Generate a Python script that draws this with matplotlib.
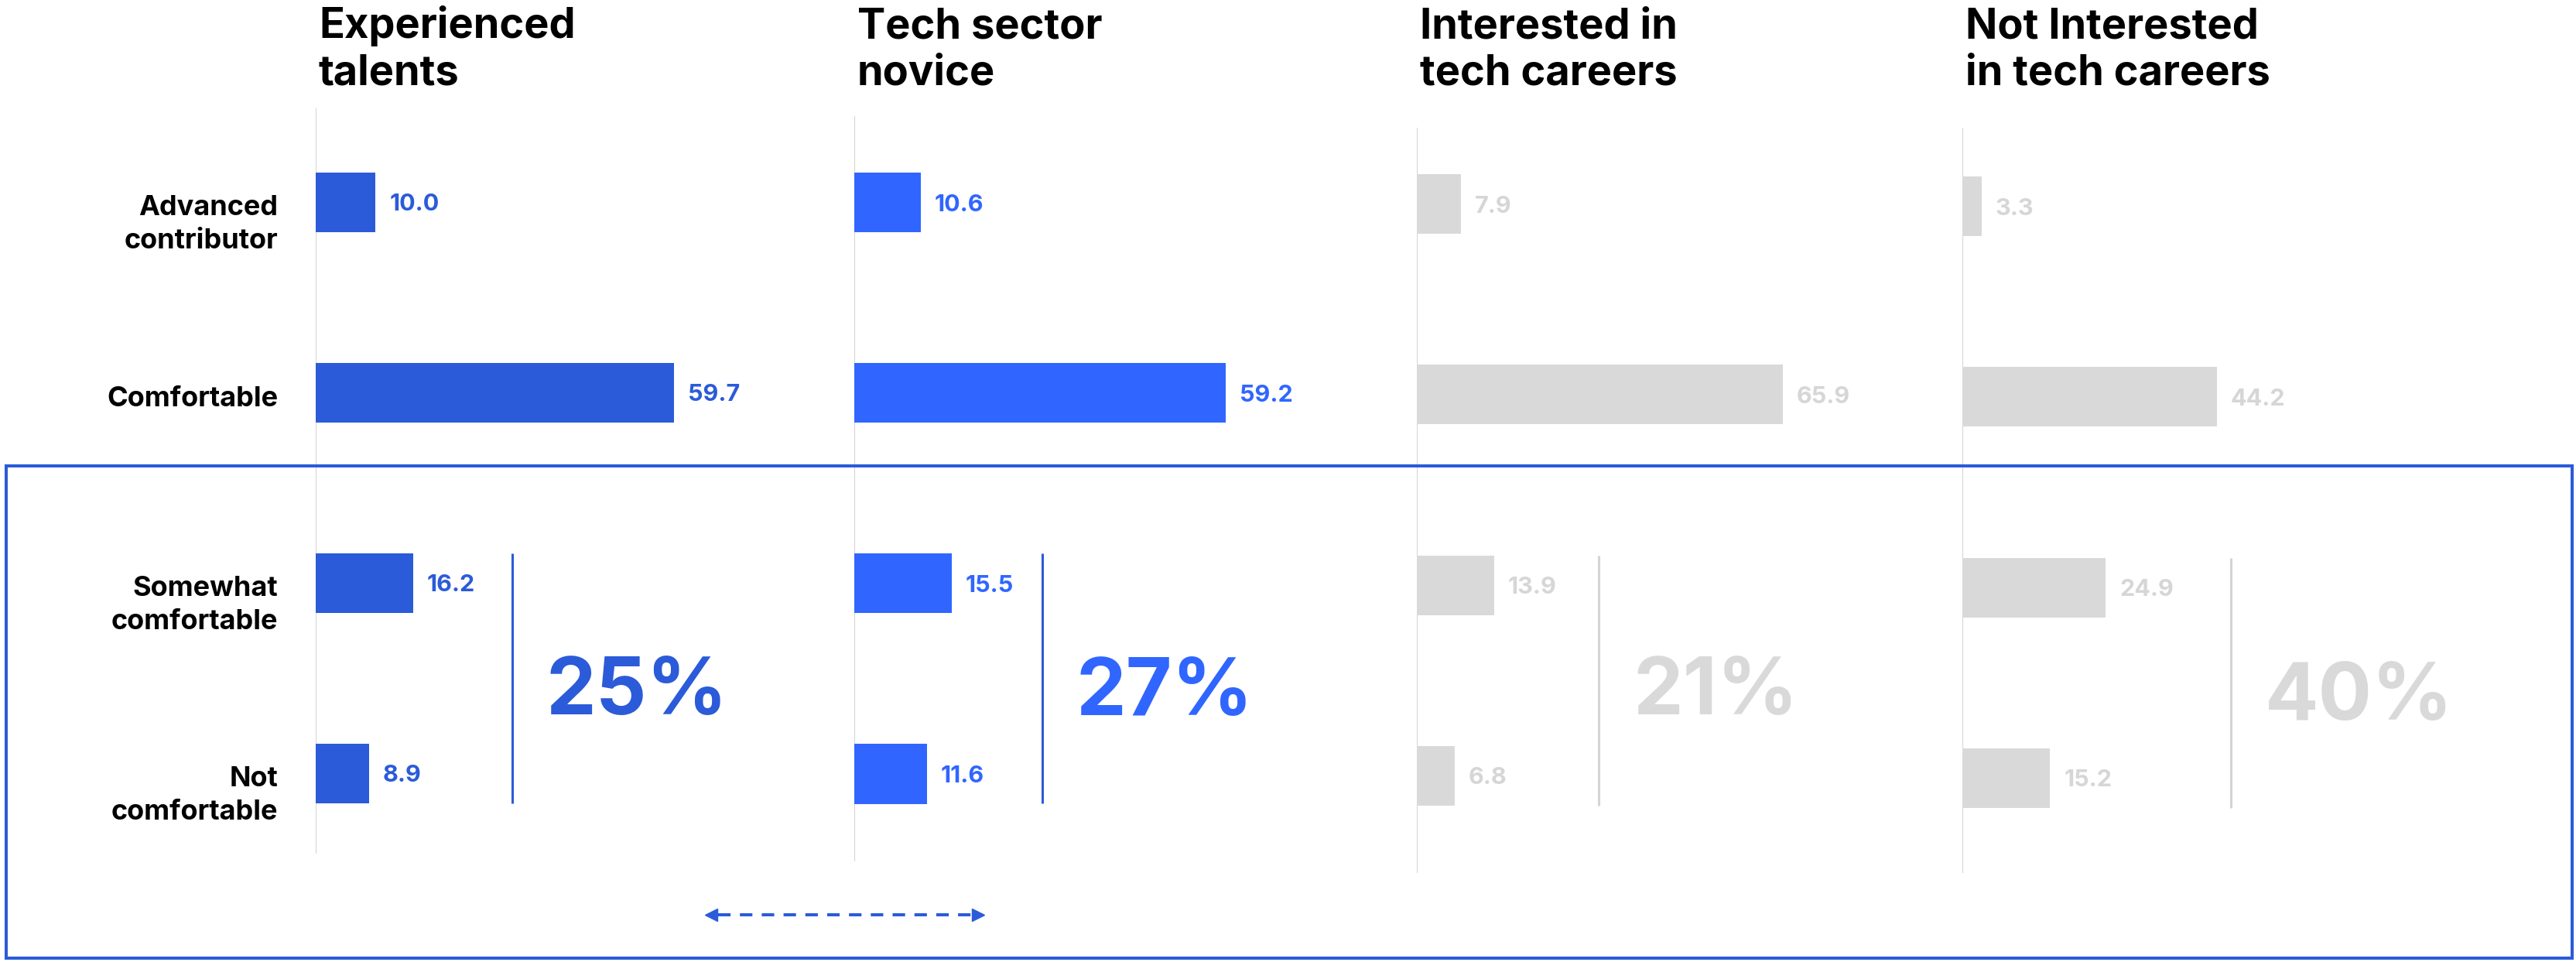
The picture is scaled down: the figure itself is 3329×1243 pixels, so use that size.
import matplotlib
matplotlib.use("Agg")
import matplotlib.pyplot as plt
from matplotlib.patches import Rectangle
from matplotlib.lines import Line2D

plt.rcParams['font.family'] = ['Inter', 'DejaVu Sans']
plt.rcParams['font.weight'] = 'bold'

groups = ["Experienced\ntalents", "Tech sector\nnovice",
          "Interested in\ntech careers", "Not Interested\nin tech careers"]
levels = ["Advanced\ncontributor", "Comfortable", "Somewhat\ncomfortable", "Not\ncomfortable"]
experienced = [10.0, 59.7, 16.2, 8.9]
novice = [10.6, 59.2, 15.5, 11.6]
interested = [7.9, 65.9, 13.9, 6.8]
not_interested = [3.3, 44.2, 24.9, 15.2]
series = [experienced, novice, interested, not_interested]

BLUE = '#2b5bd9'
BRIGHT = '#3066ff'
GREY = '#d9d9d9'
bar_colors = [BLUE, BRIGHT, GREY, GREY]
text_colors = [BLUE, BRIGHT, '#d6d6d6', '#d6d6d6']
bracket_colors = [BLUE, BLUE, '#d4d4d4', '#d4d4d4']

W, H = 3330, 1243
fig = plt.figure(figsize=(W / 100, H / 100), dpi=100)

def fx(x):
    return x / W

def fy(y):
    return 1 - y / H

# per panel: axis x, line top, line bottom, first bar centre, px per unit,
# bracket offset, big number baseline (all in pixels)
layout = [
    (408, 140, 1103, 261, 7.75, 254, 923),
    (1104, 150, 1113, 262, 8.1, 243, 924),
    (1831, 165, 1128, 264, 7.17, 235, 923),
    (2536, 165, 1128, 267, 7.44, 347, 930),
]
step = 246
bar_h = 77 / step

for k, (vals, lay) in enumerate(zip(series, layout)):
    x0, top, bot, c0, ppu, boff, base = lay
    width_px = 700
    ax = fig.add_axes([fx(x0), fy(bot), width_px / W, (bot - top) / H])
    ax.set_xlim(0, width_px / ppu)
    ax.set_ylim((bot - c0) / step, (top - c0) / step)
    ax.axis('off')
    ax.axvline(0, color='#d4d4d4', lw=1.5, zorder=0)

    ypos = list(range(len(vals)))
    ax.barh(ypos, vals, height=bar_h, color=bar_colors[k], zorder=2)
    for y, v in zip(ypos, vals):
        ax.annotate(f"{v:.1f}", xy=(v, y), xytext=(13, -8), textcoords='offset points',
                    ha='left', va='baseline', fontsize=22, color=text_colors[k])

    if k == 0:
        for y, lab in zip(ypos, levels):
            # baseline of the last line; first line sits level with the bar
            drop = 14 + 46 * lab.count("\n") if "\n" in lab else 18
            ax.annotate(lab, xy=(0, y), xytext=(-35, -drop * 0.72), textcoords='offset points',
                        ha='right', va='baseline', fontsize=26, color='black',
                        linespacing=1.4)

    # bracket around the two lower levels with their combined share
    bx = boff / ppu
    ax.plot([bx, bx], [2 - bar_h / 2, 3 + bar_h / 2], color=bracket_colors[k],
            lw=2.2, clip_on=False, solid_capstyle='butt')
    share = round(vals[2] + vals[3])
    ax.text(bx + 44 / ppu, (base - c0) / step, f"{share}%", ha='left', va='baseline',
            fontsize=74, color=text_colors[k] if k < 2 else GREY)

    fig.text(fx(x0 + 4), fy(110), groups[k], ha='left', va='baseline',
             fontsize=39, color='black', linespacing=1.25)

# outline around the lower half
fig.add_artist(Rectangle((fx(8), fy(1238)), fx(3316), (1238 - 602) / H,
                         transform=fig.transFigure, fill=False, ec=BLUE, lw=2.9))

# dashed double arrow under the first two panels
ay = fy(1182)
fig.add_artist(Line2D([fx(928), fx(1256)], [ay, ay], transform=fig.transFigure,
                      color=BLUE, lw=2.9, dashes=(4, 3)))
fig.add_artist(Line2D([fx(919.5)], [ay], transform=fig.transFigure, marker='<',
                      markersize=11.5, color=BLUE, lw=0))
fig.add_artist(Line2D([fx(1264.5)], [ay], transform=fig.transFigure, marker='>',
                      markersize=11.5, color=BLUE, lw=0))

fig.savefig('out.png', dpi=100, facecolor='white')
